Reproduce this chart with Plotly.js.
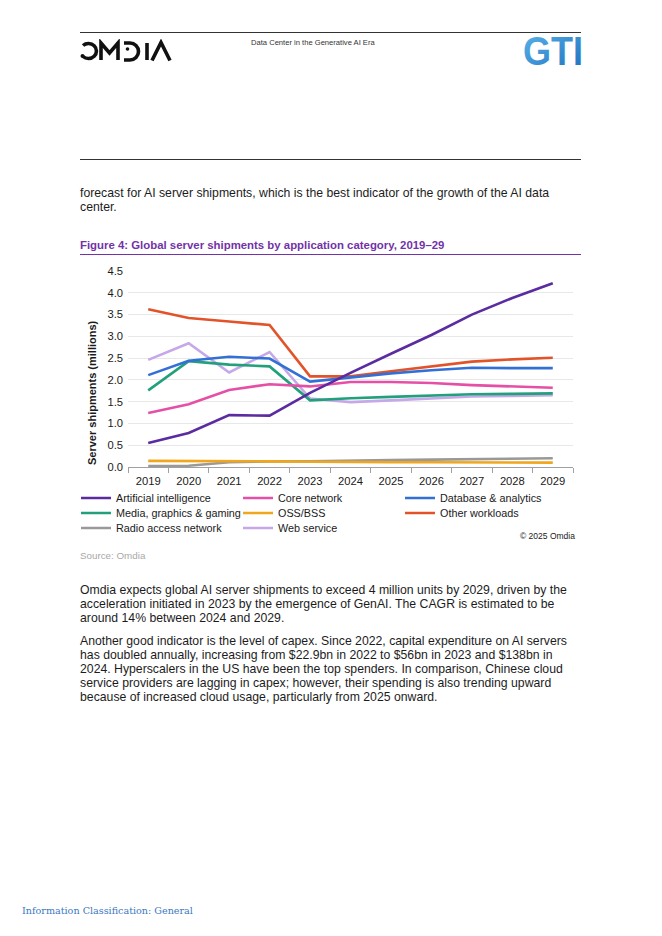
<!DOCTYPE html>
<html>
<head>
<meta charset="utf-8">
<script src="https://cdn.plot.ly/plotly-3.0.1.min.js"></script>
<style>
  html, body { margin:0; padding:0; background:#fff; }
  body { width:662px; height:936px; position:relative; overflow:hidden;
         font-family:"Liberation Sans", Arial, Helvetica, sans-serif; color:#1a1a1a; }
  .abs { position:absolute; white-space:nowrap; }
  .rule { position:absolute; height:1px; background:#333; }
  .body { font-size:12.25px; line-height:14px; color:#1c1c1c; }
</style>
</head>
<body>
<script>
// ---- data ----
const years = ['2019','2020','2021','2022','2023','2024','2025','2026','2027','2028','2029'];
const artificialIntelligence = [0.55, 0.78, 1.19, 1.18, 1.70, 2.16, 2.60, 3.03, 3.50, 3.88, 4.22];
const coreNetwork           = [1.24, 1.44, 1.77, 1.90, 1.85, 1.95, 1.95, 1.93, 1.88, 1.85, 1.82];
const databaseAnalytics     = [2.11, 2.44, 2.53, 2.49, 1.96, 2.05, 2.15, 2.22, 2.28, 2.27, 2.27];
const mediaGraphicsGaming   = [1.76, 2.43, 2.35, 2.31, 1.53, 1.58, 1.61, 1.64, 1.67, 1.68, 1.69];
const ossBss                = [0.14, 0.14, 0.13, 0.13, 0.12, 0.11, 0.11, 0.11, 0.11, 0.10, 0.10];
const otherWorkloads        = [3.62, 3.42, 3.34, 3.26, 2.08, 2.08, 2.20, 2.31, 2.42, 2.47, 2.51];
const radioAccessNetwork    = [0.02, 0.03, 0.11, 0.13, 0.13, 0.15, 0.16, 0.17, 0.18, 0.19, 0.20];
const webService            = [2.46, 2.84, 2.17, 2.64, 1.57, 1.49, 1.53, 1.58, 1.62, 1.63, 1.65];
const yTickVals = [0, 0.5, 1, 1.5, 2, 2.5, 3, 3.5, 4, 4.5];
</script>

<!-- header -->
<div class="rule" style="left:80px; top:32px; width:501px;"></div>
<svg class="abs" style="left:78px; top:39px;" width="96" height="24" viewBox="0 0 96 24">
  <g fill="none" stroke="#111" stroke-width="3.6" stroke-linecap="butt">
    <path d="M5,6.5 A8,7.5 0 1 1 5,17.5"/>
    <path d="M23,21 V4 L31.5,14 L40,4 V21"/>
    <path d="M46,4 H52 A8.5,8.5 0 0 1 52,21 H46"/>
    <path d="M69,4 V21"/>
    <path d="M74,21.5 L83,3.5 L92,21.5"/>
  </g>
  <circle cx="4.5" cy="17" r="2" fill="#111"/>
  <circle cx="49.5" cy="10" r="1.8" fill="#111"/>
</svg>
<div class="abs" style="left:251px; top:38px; font-size:7.6px; line-height:10px; color:#333;">Data Center in the Generative AI Era</div>
<svg class="abs" style="left:514px; top:30px;" width="80" height="42">
  <defs>
    <linearGradient id="gti" x1="0" y1="0" x2="1" y2="1">
      <stop offset="0" stop-color="#5bb5ea"/>
      <stop offset="1" stop-color="#1e6fbd"/>
    </linearGradient>
  </defs>
  <text x="9" y="35" font-family="Liberation Sans, Arial, sans-serif" font-weight="bold" font-size="40" fill="url(#gti)" textLength="60" lengthAdjust="spacingAndGlyphs">GTI</text>
</svg>
<div class="rule" style="left:80px; top:159px; width:501px;"></div>

<!-- intro text -->
<div class="abs body" style="left:80px; top:186px;">forecast for AI server shipments, which is the best indicator of the growth of the AI data<br>center.</div>

<!-- figure title -->
<div class="abs" style="left:80px; top:238px; font-size:11.4px; line-height:14px; font-weight:bold; color:#7332a8;">Figure 4: Global server shipments by application category, 2019–29</div>
<div class="abs" style="left:80px; top:254px; width:501px; height:1px; background:#7332a8;"></div>

<!-- chart -->
<div id="chart" class="abs" style="left:60px; top:262px; width:530px; height:290px;"></div>

<div class="abs" style="left:80px; top:550px; font-size:9.8px; line-height:12px; color:#a8a8a8;">Source: Omdia</div>

<div class="abs body" style="left:80px; top:583px;">Omdia expects global AI server shipments to exceed 4 million units by 2029, driven by the<br>acceleration initiated in 2023 by the emergence of GenAI. The CAGR is estimated to be<br>around 14% between 2024 and 2029.</div>

<div class="abs body" style="left:80px; top:634px;">Another good indicator is the level of capex. Since 2022, capital expenditure on AI servers<br>has doubled annually, increasing from $22.9bn in 2022 to $56bn in 2023 and $138bn in<br>2024. Hyperscalers in the US have been the top spenders. In comparison, Chinese cloud<br>service providers are lagging in capex; however, their spending is also trending upward<br>because of increased cloud usage, particularly from 2025 onward.</div>

<div class="abs" style="left:22px; top:904px; font-family:'DejaVu Serif','Liberation Serif',serif; font-size:9.6px; line-height:14px; color:#3a78c2;">Information Classification: General</div>

<script>
const series = [
  {name:'Artificial intelligence', y:artificialIntelligence, color:'#5b2c9f', legend:'legend',  rank:1},
  {name:'Core network',            y:coreNetwork,            color:'#e54fa6', legend:'legend',  rank:2},
  {name:'Database & analytics',    y:databaseAnalytics,      color:'#3370d6', legend:'legend',  rank:3},
  {name:'Media, graphics & gaming',y:mediaGraphicsGaming,    color:'#22a07c', legend:'legend2', rank:4},
  {name:'OSS/BSS',                 y:ossBss,                 color:'#f0a71d', legend:'legend2', rank:5},
  {name:'Other workloads',         y:otherWorkloads,         color:'#e2532a', legend:'legend2', rank:6},
  {name:'Radio access network',    y:radioAccessNetwork,     color:'#999999', legend:'legend3', rank:7},
  {name:'Web service',             y:webService,             color:'#c6a7e8', legend:'legend3', rank:8}
];
// draw AI last so it sits on top
const drawOrder = [7,6,5,4,3,2,1,0];
const traces = drawOrder.map(i => {
  const s = series[i];
  return {
    type:'scatter', mode:'lines', x:years, y:s.y, name:s.name,
    line:{color:s.color, width:2.6}, legend:s.legend, legendrank:s.rank,
    hoverinfo:'skip'
  };
});

const fontFam = '"Liberation Sans", Arial, Helvetica, sans-serif';
const divW = 530, divH = 290, divL = 60, divT = 262;
const plotL = 68, plotT = 9, plotW = 445, plotH = 196;
function px2x(px){ return (px - (divL + plotL)) / plotW; }
function py2y(py){ return ((divT + plotT + plotH) - py) / plotH; }

const legBase = {
  orientation:'h', xanchor:'left', yanchor:'middle',
  bgcolor:'rgba(0,0,0,0)', borderwidth:0,
  font:{family:fontFam, size:10.8, color:'#1a1a1a'},
  entrywidth:117, entrywidthmode:'pixels', traceorder:'normal',
  itemclick:false, itemdoubleclick:false
};

const layout = {
  width:divW, height:divH,
  margin:{l:plotL, r:divW-plotL-plotW, t:plotT, b:divH-plotT-plotH},
  paper_bgcolor:'rgba(0,0,0,0)', plot_bgcolor:'rgba(0,0,0,0)',
  font:{family:fontFam, size:11, color:'#1a1a1a'},
  showlegend:true,
  xaxis:{
    type:'category', range:[-0.5, 10.5], tickson:'boundaries',
    ticks:'outside', ticklen:5, tickcolor:'#a0a0a0', tickwidth:1,
    ticklabelstandoff:4,
    showline:true, linecolor:'#a0a0a0', linewidth:1,
    showgrid:false, zeroline:false, fixedrange:true,
    tickfont:{family:fontFam, size:11.2, color:'#1a1a1a'}
  },
  yaxis:{
    range:[0, 4.5], tickvals:yTickVals, tickformat:'.1f',
    showgrid:true, gridcolor:'#e8e8e8', gridwidth:1,
    zeroline:false, showline:false, ticks:'', fixedrange:true,
    ticklabelstandoff:4,
    tickfont:{family:fontFam, size:11.2, color:'#1a1a1a'}
  },
  legend:  Object.assign({}, legBase, {x:px2x(76), y:py2y(498)}),
  legend2: Object.assign({}, legBase, {x:px2x(76), y:py2y(513)}),
  legend3: Object.assign({}, legBase, {x:px2x(76), y:py2y(528)}),
  annotations:[
    {text:'<b>Server shipments (millions)</b>', xref:'paper', yref:'paper',
     x:px2x(92), y:py2y(393), xanchor:'center', yanchor:'middle', textangle:-90,
     showarrow:false, font:{family:fontFam, size:11, color:'#1a1a1a'}},
    {text:'© 2025 Omdia', xref:'paper', yref:'paper',
     x:px2x(577), y:py2y(536), xanchor:'right', yanchor:'middle',
     showarrow:false, font:{family:fontFam, size:8.5, color:'#1a1a1a'}}
  ]
};

Plotly.newPlot('chart', traces, layout, {displayModeBar:false, staticPlot:true});
</script>
</body>
</html>
